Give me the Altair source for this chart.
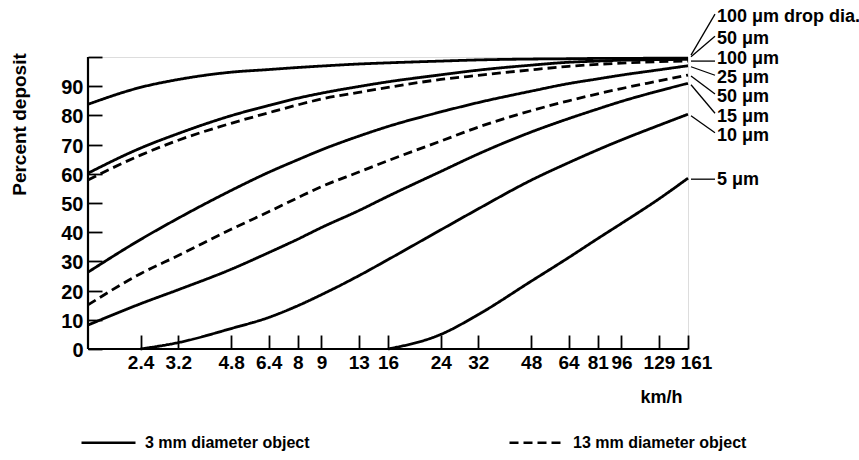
import altair as alt
import pandas as pd

# Wind speed in km/h (the chart was laid out on a mph log grid: 1, 1.5, 2, 3 ... 100 mph)
speed_kmh = [1.61, 2.41, 3.22, 4.83, 6.44, 8.05, 9.66, 12.87, 16.09,
             24.14, 32.19, 48.28, 64.37, 80.47, 96.56, 128.75, 160.93]

# Percent deposit per drop diameter (None = curve has not left zero yet)
d100_obj3 = [83.8, 89.6, 92.3, 94.8, 95.7, 96.4, 96.9, 97.6, 98.0,
             98.6, 99.0, 99.3, 99.4, 99.5, 99.5, 99.6, 99.6]
d50_obj3 = [60.2, 68.8, 73.8, 79.9, 83.4, 85.9, 87.6, 89.9, 91.5,
            93.9, 95.5, 97.2, 98.2, 98.6, 98.9, 99.1, 99.2]
d100_obj13 = [57.9, 66.4, 71.5, 77.3, 80.9, 83.6, 85.6, 87.9, 89.6,
              92.3, 93.7, 95.6, 96.8, 97.5, 97.9, 98.4, 98.6]
d25_obj3 = [26.3, 37.5, 44.8, 54.3, 60.5, 64.8, 68.2, 72.9, 76.2,
            81.2, 84.4, 88.3, 90.9, 92.5, 93.8, 95.6, 97.0]
d50_obj13 = [15.1, 25.8, 32.0, 41.0, 47.0, 51.8, 55.6, 60.6, 64.5,
             71.2, 76.0, 81.6, 85.0, 87.4, 89.2, 91.8, 93.8]
d15_obj3 = [8.2, 15.5, 20.3, 27.3, 33.0, 37.6, 41.6, 47.4, 52.3,
            60.8, 66.8, 74.3, 78.9, 82.2, 84.8, 88.4, 91.0]
d10_obj3 = [None, 0.0, 2.2, 7.0, 10.8, 14.8, 18.6, 25.1, 30.6,
            40.8, 48.0, 57.8, 63.8, 68.2, 71.6, 76.6, 80.4]
d5_obj3 = [None, None, None, None, None, None, None, None, 0.0,
           5.0, 11.8, 23.2, 31.3, 37.8, 43.0, 51.4, 58.5]

objects = ["3 mm diameter object", "13 mm diameter object"]
curve_labels = ["100 μm drop dia.", "50 μm", "100 μm", "25 μm",
                "50 μm", "15 μm", "10 μm", "5 μm"]
curve_objects = [objects[0], objects[0], objects[1], objects[0],
                 objects[1], objects[0], objects[0], objects[0]]
curve_values = [d100_obj3, d50_obj3, d100_obj13, d25_obj3,
                d50_obj13, d15_obj3, d10_obj3, d5_obj3]

x_tick_kmh = speed_kmh[1:]
x_tick_labels = ["2.4", "3.2", "4.8", "6.4", "8", "9", "13", "16",
                 "24", "32", "48", "64", "81", "96", "129", "161"]
y_ticks = [0, 10, 20, 30, 40, 50, 60, 70, 80, 90, 100]

# label placement beside each curve end (pixel offsets)
label_dy = [-41.5, -20, -1.8, 12.5, 22.2, 33.4, 21.8, 1.8]
leader_start_dy = [-3, -2.5, 0, 1, 1, 1.5, 1.5, 1]
leader_end_dy = [-44, -23, 0, 9.5, 19, 30, 18.5, 1]

FONT = "Liberation Sans"

rows = []
for i, (lab, obj, vals) in enumerate(zip(curve_labels, curve_objects, curve_values)):
    for s, v in zip(speed_kmh, vals):
        if v is not None:
            rows.append({"curve": f"c{i}", "label": lab, "object": obj,
                         "kmh": s, "pct": v})
df = pd.DataFrame(rows)

label_expr = "".join(
    f"datum.value < {v * 1.05:.3f} ? '{t}' : " for v, t in zip(x_tick_kmh, x_tick_labels)
) + "''"

x_scale = alt.Scale(type="log", domain=[speed_kmh[0], speed_kmh[-1]], nice=False)
y_scale = alt.Scale(domain=[0, 100], nice=False, zero=False)

x_axis = alt.Axis(
    values=x_tick_kmh, labelExpr=label_expr, title="km/h",
    offset=-14, tickSize=14, tickWidth=1.8, tickColor="black",
    domain=False, grid=False, labelPadding=4, labelFontSize=19,
    labelFont=FONT, labelFontWeight="bold", labelColor="black",
    labelOverlap=False, labelFlush=False,
    labelOffset={"condition": {"test": "datum.value > 150", "value": 8}, "value": 0},
    titleFont=FONT, titleFontSize=18, titleFontWeight="bold", titleColor="black",
    titleX=573, titleY=62, titleAlign="center", titleBaseline="middle",
)
y_axis = alt.Axis(
    values=y_ticks, labelExpr="datum.value >= 100 ? '' : datum.label",
    title="Percent deposit", offset=-14, tickSize=14, tickWidth=1.8,
    tickColor="black", domain=False, grid=False, labelPadding=5,
    labelFontSize=20, labelFont=FONT, labelFontWeight="bold", labelColor="black",
    labelOffset=1.5,
    titleFont=FONT, titleFontSize=19, titleFontWeight="bold", titleColor="black",
    titleX=-83, titleY=67, titleAlign="center", titleBaseline="middle",
    titleAngle=270,
)

x_enc = alt.X("kmh:Q", scale=x_scale, axis=x_axis)
y_enc = alt.Y("pct:Q", scale=y_scale, axis=y_axis)

lines = alt.Chart(df).mark_line(
    color="black", strokeWidth=2.8, interpolate="monotone"
).encode(
    x=x_enc,
    y=y_enc,
    detail="curve:N",
    strokeDash=alt.StrokeDash(
        "object:N",
        scale=alt.Scale(domain=objects, range=[[1, 0], [9, 5]]),
        legend=alt.Legend(
            title=None, orient="none", legendX=-8, legendY=357,
            direction="horizontal", symbolType="stroke", symbolSize=2916,
            symbolStrokeWidth=2.6, symbolStrokeColor="black",
            labelFont=FONT, labelFontSize=16, labelFontWeight="bold",
            labelColor="black", labelOffset=8, labelLimit=400,
            columnPadding=194, padding=0,
        ),
    ),
)

# plot frame: x axis line along 0 %, y axis line at the lowest speed
frame_df = pd.DataFrame({
    "kmh": [speed_kmh[0], speed_kmh[0]],
    "kmh2": [speed_kmh[-1], speed_kmh[0]],
    "pct": [0, 0],
    "pct2": [0, 100],
})
frame = alt.Chart(frame_df).mark_rule(color="black", strokeWidth=2.2).encode(
    x=x_enc, x2="kmh2:Q", y=y_enc, y2="pct2:Q"
)

layers = [lines, frame]
for i, lab in enumerate(curve_labels):
    end_df = df[df["curve"] == f"c{i}"].tail(1)
    leader = alt.Chart(end_df).mark_rule(
        color="black", strokeWidth=1.3,
        xOffset=3, x2Offset=27,
        yOffset=leader_start_dy[i], y2Offset=leader_end_dy[i],
    ).encode(x=x_enc, x2=alt.X2("kmh:Q"), y=y_enc, y2=alt.Y2("pct:Q"))
    text = alt.Chart(end_df).mark_text(
        align="left", baseline="middle", dx=29, dy=label_dy[i],
        font=FONT, fontSize=18, fontWeight="bold", color="black",
    ).encode(x=x_enc, y=y_enc, text="label:N")
    layers += [leader, text]

chart = alt.layer(*layers).properties(
    width=600, height=292,
    autosize=alt.AutoSizeParams(type="none"),
    padding={"left": 88, "top": 57, "right": 171, "bottom": 111},
).configure_view(stroke=None).configure(background="white")

chart.save("out.html", embed_options={"renderer": "svg", "actions": False})
